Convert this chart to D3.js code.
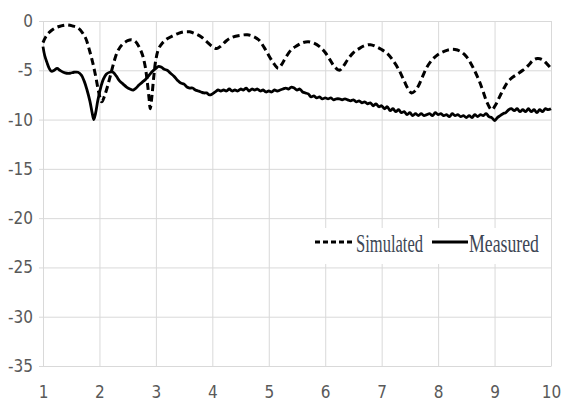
<!DOCTYPE html>
<html>
<head>
<meta charset="utf-8">
<script src="https://cdn.jsdelivr.net/npm/d3@7"></script>
<style>
  body { margin: 0; background: #fff; }
  svg { display: block; }
</style>
</head>
<body>
<script>
// tick labels
var xTicks = [1, 2, 3, 4, 5, 6, 7, 8, 9, 10];
var yTicks = [0, -5, -10, -15, -20, -25, -30, -35];

// series: [frequency, value]
var simulated = [
  [1.0,-2.2],[1.05,-1.6],[1.12,-1.1],[1.22,-0.7],[1.32,-0.5],[1.42,-0.4],[1.52,-0.5],[1.62,-0.7],
  [1.70,-1.2],[1.76,-1.8],[1.82,-2.9],[1.88,-4.2],[1.94,-5.8],[1.99,-7.3],[2.04,-8.2],[2.09,-7.6],
  [2.14,-6.7],[2.2,-5.4],[2.26,-4.1],[2.32,-3.1],[2.4,-2.4],[2.5,-2.0],[2.57,-1.9],[2.64,-2.1],
  [2.70,-2.6],[2.76,-3.4],[2.81,-4.6],[2.85,-6.3],[2.88,-7.9],[2.90,-8.9],[2.93,-7.6],[2.96,-5.8],
  [3.0,-3.9],[3.05,-2.8],[3.12,-2.2],[3.2,-1.8],[3.3,-1.5],[3.4,-1.25],[3.5,-1.1],[3.6,-1.1],
  [3.7,-1.3],[3.8,-1.6],[3.9,-2.1],[4.0,-2.6],[4.08,-2.8],[4.16,-2.5],[4.25,-2.0],[4.35,-1.65],
  [4.5,-1.45],[4.62,-1.4],[4.72,-1.55],[4.82,-1.9],[4.92,-2.7],[5.02,-3.7],[5.1,-4.4],[5.17,-4.8],
  [5.23,-4.4],[5.3,-3.7],[5.4,-2.9],[5.5,-2.5],[5.6,-2.2],[5.7,-2.1],[5.8,-2.25],[5.9,-2.6],
  [6.0,-3.2],[6.08,-3.9],[6.16,-4.6],[6.25,-5.0],[6.32,-4.6],[6.4,-3.9],[6.5,-3.2],[6.6,-2.8],
  [6.7,-2.5],[6.8,-2.4],[6.9,-2.6],[7.0,-2.9],[7.1,-3.3],[7.2,-4.0],[7.3,-4.9],[7.4,-6.1],
  [7.47,-6.9],[7.53,-7.3],[7.59,-7.1],[7.65,-6.6],[7.72,-5.7],[7.8,-4.7],[7.9,-3.9],[8.0,-3.4],
  [8.1,-3.1],[8.2,-2.9],[8.3,-2.9],[8.4,-3.1],[8.5,-3.6],[8.58,-4.3],[8.66,-5.2],[8.73,-6.1],
  [8.8,-7.2],[8.87,-8.3],[8.95,-9.0],[9.02,-8.5],[9.08,-7.8],[9.15,-7.0],[9.22,-6.3],[9.3,-5.8],
  [9.4,-5.4],[9.5,-5.0],[9.6,-4.5],[9.68,-4.0],[9.76,-3.8],[9.84,-3.9],[9.92,-4.3],[10.0,-4.8]
];

var measured = [
  [1.0,-2.6],[1.03,-3.5],[1.07,-4.2],[1.11,-4.8],[1.15,-5.1],[1.2,-5.0],[1.25,-4.8],[1.3,-5.0],
  [1.36,-5.2],[1.42,-5.3],[1.48,-5.3],[1.55,-5.2],[1.62,-5.2],[1.68,-5.5],[1.73,-6.1],[1.78,-7.0],
  [1.83,-8.1],[1.87,-9.3],[1.9,-10.0],[1.93,-9.4],[1.97,-8.1],[2.02,-6.8],[2.07,-5.9],[2.12,-5.4],
  [2.18,-5.2],[2.24,-5.2],[2.3,-5.6],[2.36,-6.1],[2.42,-6.4],[2.48,-6.7],[2.54,-6.9],[2.6,-7.0],
  [2.65,-6.8],[2.7,-6.5],[2.76,-6.2],[2.82,-5.9],[2.88,-5.5],[2.94,-5.1],[3.0,-4.8],[3.05,-4.6],
  [3.1,-4.7],[3.15,-4.9],[3.2,-5.0],[3.26,-5.3],[3.32,-5.6],[3.38,-6.0],[3.44,-6.3],[3.5,-6.4],
  [3.55,-6.7],[3.6,-6.8],[3.65,-6.8],[3.7,-7.0],[3.75,-7.1],[3.8,-7.2],[3.85,-7.3],[3.9,-7.3],
  [3.95,-7.5],[4.0,-7.4],[4.05,-7.2],[4.1,-7.0],[4.15,-7.1],[4.2,-7.0],[4.25,-7.1],[4.3,-6.9],
  [4.35,-7.1],[4.4,-7.0],[4.45,-7.1],[4.5,-6.9],[4.55,-7.0],[4.6,-6.8],[4.65,-7.1],[4.7,-6.9],
  [4.75,-7.0],[4.8,-6.9],[4.85,-7.1],[4.9,-7.0],[4.95,-7.2],[5.0,-7.1],[5.05,-7.2],[5.1,-7.0],
  [5.15,-7.1],[5.2,-7.0],[5.25,-6.9],[5.3,-6.8],[5.35,-6.9],[5.4,-6.7],[5.45,-6.8],[5.5,-7.0],
  [5.55,-6.9],[5.6,-7.2],[5.65,-7.3],[5.7,-7.4],[5.75,-7.7],[5.8,-7.6],[5.85,-7.8],[5.9,-7.7],
  [5.95,-7.9],[6.0,-7.8],[6.05,-7.9],[6.1,-7.8],[6.15,-8.0],[6.2,-7.9],[6.25,-7.9],[6.3,-8.0],
  [6.35,-7.9],[6.4,-8.0],[6.45,-8.1],[6.5,-8.0],[6.55,-8.2],[6.6,-8.1],[6.65,-8.3],[6.7,-8.2],
  [6.75,-8.4],[6.8,-8.3],[6.85,-8.6],[6.9,-8.4],[6.95,-8.7],[7.0,-8.6],[7.05,-8.9],[7.1,-8.7],
  [7.15,-9.1],[7.2,-8.9],[7.25,-9.2],[7.3,-9.0],[7.35,-9.3],[7.4,-9.2],[7.45,-9.5],[7.5,-9.3],
  [7.55,-9.6],[7.6,-9.4],[7.65,-9.6],[7.7,-9.4],[7.75,-9.6],[7.8,-9.5],[7.85,-9.4],[7.9,-9.6],
  [7.95,-9.3],[8.0,-9.5],[8.05,-9.4],[8.1,-9.6],[8.15,-9.5],[8.2,-9.7],[8.25,-9.4],[8.3,-9.6],
  [8.35,-9.5],[8.4,-9.7],[8.45,-9.6],[8.5,-9.8],[8.55,-9.6],[8.6,-9.8],[8.65,-9.5],[8.7,-9.7],
  [8.75,-9.5],[8.8,-9.6],[8.85,-9.4],[8.9,-9.7],[8.95,-9.8],[9.0,-10.1],[9.05,-9.8],[9.1,-9.6],
  [9.15,-9.4],[9.2,-9.3],[9.25,-9.0],[9.3,-8.9],[9.35,-9.1],[9.4,-8.9],[9.45,-9.2],[9.5,-9.0],
  [9.55,-9.2],[9.6,-8.9],[9.65,-9.2],[9.7,-9.0],[9.75,-9.3],[9.8,-9.0],[9.85,-9.2],[9.9,-8.9],
  [9.95,-9.0],[10.0,-8.9]
];

var seriesNames = ["Simulated", "Measured"];

var W = 561, H = 405;
var plotLeft = 43, plotRight = 551, plotTop = 21, plotBottom = 366;

var svg = d3.select("body").append("svg")
    .attr("width", W)
    .attr("height", H);

var x = d3.scaleLinear().domain([1, 10]).range([plotLeft, plotRight]);
var y = d3.scaleLinear().domain([-35, 0]).range([plotBottom, plotTop]);

var grey = "#d9d9d9";
var labelFont = "'DejaVu Sans Condensed', 'Liberation Sans Narrow', sans-serif";
var plainNum = function(d){ return String(d); };   // keep hyphen minus like the original

//gridlines
svg.append("g")
    .attr("transform", "translate(0," + plotBottom + ")")
    .call(d3.axisBottom(x).tickValues(xTicks).tickSize(-(plotBottom - plotTop)).tickFormat(""))
    .call(function(g){ g.select(".domain").remove(); })
    .selectAll("line").attr("stroke", grey);

svg.append("g")
    .attr("transform", "translate(" + plotLeft + ",0)")
    .call(d3.axisLeft(y).tickValues(yTicks).tickSizeInner(-(plotRight - plotLeft)).tickSizeOuter(0).tickFormat(""))
    .call(function(g){ g.select(".domain").attr("stroke", grey); })
    .selectAll("line").attr("stroke", grey);

//y axis labels with short outward ticks
var yAxis = svg.append("g")
    .attr("transform", "translate(" + plotLeft + ",0)")
    .call(d3.axisLeft(y).tickValues(yTicks).tickFormat(plainNum).tickSize(4).tickPadding(6))
    .call(function(g){ g.select(".domain").remove(); });
yAxis.selectAll("line").attr("stroke", grey);
yAxis.selectAll("text")
    .style("font-family", labelFont)
    .style("font-size", "17px")
    .attr("fill", "#595959");

//x axis labels
var xAxis = svg.append("g")
    .attr("transform", "translate(0," + plotBottom + ")")
    .call(d3.axisBottom(x).tickValues(xTicks).tickFormat(plainNum).tickSize(0).tickPadding(20))
    .call(function(g){ g.select(".domain").attr("stroke", grey); });
xAxis.selectAll("text")
    .style("font-family", labelFont)
    .style("font-size", "17px")
    .attr("fill", "#595959");

var line = d3.line()
    .x(function(d){ return x(d[0]); })
    .y(function(d){ return y(d[1]); })
    .curve(d3.curveCatmullRom);

svg.append("path")
    .datum(measured)
    .attr("d", line)
    .attr("fill", "none")
    .attr("stroke", "#000")
    .attr("stroke-width", 2.8)
    .attr("stroke-linejoin", "round");

svg.append("path")
    .datum(simulated)
    .attr("d", line)
    .attr("fill", "none")
    .attr("stroke", "#000")
    .attr("stroke-width", 3)
    .attr("stroke-dasharray", "7,4");

//legend
var legend = svg.append("g");
legend.append("rect")
    .attr("x", 306).attr("y", 228)
    .attr("width", 244).attr("height", 36)
    .attr("fill", "#fff");

var legendItems = [
  { name: seriesNames[0], x0: 315, x1: 355, dash: "5,3", w: 67 },
  { name: seriesNames[1], x0: 432, x1: 468, dash: null, w: 70 }
];
legendItems.forEach(function(it){
  var l = legend.append("line")
      .attr("x1", it.x0).attr("x2", it.x1)
      .attr("y1", 242).attr("y2", 242)
      .attr("stroke", "#000")
      .attr("stroke-width", 3);
  if (it.dash) l.attr("stroke-dasharray", it.dash);
  // tall narrow serif text: smaller font stretched vertically
  legend.append("text")
      .attr("transform", "translate(" + (it.x1 + 1) + ",252) scale(1,1.3)")
      .attr("textLength", it.w)
      .attr("lengthAdjust", "spacingAndGlyphs")
      .style("font-family", "'Liberation Serif', 'Times New Roman', serif")
      .style("font-size", "20px")
      .attr("fill", "#3d4654")
      .text(it.name);
});
</script>
</body>
</html>
